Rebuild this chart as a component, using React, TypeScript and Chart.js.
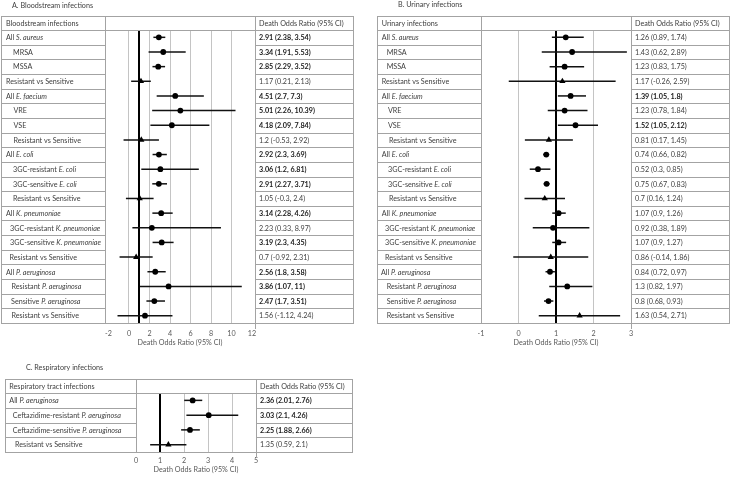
import React, { useEffect, useRef } from "react";
import { Chart, registerables } from "chart.js";

Chart.register(...registerables);

// ---------------- DATA ----------------
const valueHeader = "Death Odds Ratio (95% CI)";
const axisTitle = "Death Odds Ratio (95% CI)";

// Panel A: Bloodstream infections
const titleA = "A. Bloodstream infections";
const headerA = "Bloodstream infections";
const labelsA = [
  "All _S. aureus_", "MRSA", "MSSA", "Resistant vs Sensitive",
  "All _E. faecium_", "VRE", "VSE", "Resistant vs Sensitive",
  "All _E. coli_", "3GC-resistant _E. coli_", "3GC-sensitive _E. coli_", "Resistant vs Sensitive",
  "All _K. pneumoniae_", "3GC-resistant _K. pneumoniae_", "3GC-sensitive _K. pneumoniae_", "Resistant vs Sensitive",
  "All _P. aeruginosa_", "Resistant _P. aeruginosa_", "Sensitive _P. aeruginosa_", "Resistant vs Sensitive",
];
const orA = [2.91, 3.34, 2.85, 1.17, 4.51, 5.01, 4.18, 1.2, 2.92, 3.06, 2.91, 1.05, 3.14, 2.23, 3.19, 0.7, 2.56, 3.86, 2.47, 1.56];
const loA = [2.38, 1.91, 2.29, 0.21, 2.7, 2.26, 2.09, -0.53, 2.3, 1.2, 2.27, -0.3, 2.28, 0.33, 2.3, -0.92, 1.8, 1.07, 1.7, -1.12];
const hiA = [3.54, 5.53, 3.52, 2.13, 7.3, 10.39, 7.84, 2.92, 3.69, 6.81, 3.71, 2.4, 4.26, 8.97, 4.35, 2.31, 3.58, 11, 3.51, 4.24];
const markerA = ["circle", "circle", "circle", "triangle", "circle", "circle", "circle", "triangle", "circle", "circle", "circle", "triangle", "circle", "circle", "circle", "triangle", "circle", "circle", "circle", "circle"];
const boldA = [true, true, true, false, true, true, true, false, true, true, true, false, true, false, true, false, true, true, true, false];
const ticksA = [-2, 0, 2, 4, 6, 8, 10, 12];

// Panel B: Urinary infections
const titleB = "B. Urinary infections";
const headerB = "Urinary infections";
const labelsB = [
  "All _S. aureus_", "MRSA", "MSSA", "Resistant vs Sensitive",
  "All _E. faecium_", "VRE", "VSE", "Resistant vs Sensitive",
  "All _E. coli_", "3GC-resistant _E. coli_", "3GC-sensitive _E. coli_", "Resistant vs Sensitive",
  "All _K. pneumoniae_", "3GC-resistant _K. pneumoniae_", "3GC-sensitive _K. pneumoniae_", "Resistant vs Sensitive",
  "All _P. aeruginosa_", "Resistant _P. aeruginosa_", "Sensitive _P. aeruginosa_", "Resistant vs Sensitive",
];
const orB = [1.26, 1.43, 1.23, 1.17, 1.39, 1.23, 1.52, 0.81, 0.74, 0.52, 0.75, 0.7, 1.07, 0.92, 1.07, 0.86, 0.84, 1.3, 0.8, 1.63];
const loB = [0.89, 0.62, 0.83, -0.26, 1.05, 0.78, 1.05, 0.17, 0.66, 0.3, 0.67, 0.16, 0.9, 0.38, 0.9, -0.14, 0.72, 0.82, 0.68, 0.54];
const hiB = [1.74, 2.89, 1.75, 2.59, 1.8, 1.84, 2.12, 1.45, 0.82, 0.85, 0.83, 1.24, 1.26, 1.89, 1.27, 1.86, 0.97, 1.97, 0.93, 2.71];
const markerB = ["circle", "circle", "circle", "triangle", "circle", "circle", "circle", "triangle", "circle", "circle", "circle", "triangle", "circle", "circle", "circle", "triangle", "circle", "circle", "circle", "triangle"];
const boldB = [false, false, false, false, true, false, true, false, false, false, false, false, false, false, false, false, false, false, false, false];
const ticksB = [-1, 0, 1, 2, 3];

// Panel C: Respiratory infections
const titleC = "C. Respiratory infections";
const headerC = "Respiratory tract infections";
const labelsC = ["All _P. aeruginosa_", "Ceftazidime-resistant _P. aeruginosa_", "Ceftazidime-sensitive _P. aeruginosa_", "Resistant vs Sensitive"];
const orC = [2.36, 3.03, 2.25, 1.35];
const loC = [2.01, 2.1, 1.88, 0.59];
const hiC = [2.76, 4.26, 2.66, 2.1];
const markerC = ["circle", "circle", "circle", "triangle"];
const boldC = [true, true, true, false];
const ticksC = [0, 1, 2, 3, 4, 5];

const refValue = 1;

// ---------------- LAYOUT / STYLE ----------------
const FONT = 'Lato, "Liberation Sans", sans-serif';
const FS = 7.2;
const TEXT = "#404040";
const BOLDTEXT = "#1a1a1a";
const LINE = "#a3a3a3";
const GRID = "#c4c4c4";

type Layout = {
  left: number; top: number; w: number; h: number;
  tableLeft: number; headerTop: number; plotLeft: number; plotRight: number; tableRight: number;
  plotTop: number; plotBottom: number; xmin: number; xmax: number;
  titleX: number; titleY: number; valueX: number; headerIndent: number; indents: number[];
  tickPad: number; titlePadBottom: number;
};

const layoutA: Layout = {
  left: 0, top: 0, w: 360, h: 352,
  tableLeft: 1, headerTop: 16, plotLeft: 105, plotRight: 255, tableRight: 353,
  plotTop: 30, plotBottom: 323, xmin: -2.34, xmax: 12.29,
  titleX: 12, titleY: 6, valueX: 259, headerIndent: 5,
  indents: [5, 12, 12, 5, 5, 12.5, 12.5, 12.5, 5, 12, 12, 12, 5, 9, 9, 8.5, 5, 10.5, 10, 10.5],
  tickPad: 6.5, titlePadBottom: 4.7,
};
const layoutB: Layout = {
  left: 368, top: 0, w: 363, h: 352,
  tableLeft: 9, headerTop: 16, plotLeft: 113, plotRight: 263, tableRight: 361,
  plotTop: 30, plotBottom: 323, xmin: -1, xmax: 3,
  titleX: 30, titleY: 5, valueX: 267, headerIndent: 4.7,
  indents: [4.7, 9.7, 9.7, 4.7, 4.7, 11, 11, 12, 4.7, 11, 11, 12, 4.7, 8, 8, 8, 4, 9.7, 9.7, 9.7],
  tickPad: 6.5, titlePadBottom: 4.7,
};
const layoutC: Layout = {
  left: 0, top: 360, w: 360, h: 118,
  tableLeft: 5, headerTop: 19, plotLeft: 136, plotRight: 256, tableRight: 352,
  plotTop: 33, plotBottom: 92, xmin: 0, xmax: 5,
  titleX: 26, titleY: 8, valueX: 260, headerIndent: 4.3,
  indents: [4.3, 7.7, 7.7, 10],
  tickPad: 4.7, titlePadBottom: 3.7,
};

type Panel = {
  title: string; header: string; labels: string[]; or: number[]; lo: number[]; hi: number[];
  marker: string[]; bold: boolean[]; ticks: number[]; L: Layout;
};

const panels: Panel[] = [
  { title: titleA, header: headerA, labels: labelsA, or: orA, lo: loA, hi: hiA, marker: markerA, bold: boldA, ticks: ticksA, L: layoutA },
  { title: titleB, header: headerB, labels: labelsB, or: orB, lo: loB, hi: hiB, marker: markerB, bold: boldB, ticks: ticksB, L: layoutB },
  { title: titleC, header: headerC, labels: labelsC, or: orC, lo: loC, hi: hiC, marker: markerC, bold: boldC, ticks: ticksC, L: layoutC },
];

function font(bold: boolean, italic: boolean) {
  return `${italic ? "italic " : ""}${bold ? "bold " : ""}${FS}px ${FONT}`;
}

function drawRich(ctx: CanvasRenderingContext2D, text: string, x: number, y: number) {
  const parts = text.split("_");
  let cx = x;
  parts.forEach((part, i) => {
    if (!part) return;
    ctx.font = font(false, i % 2 === 1);
    ctx.fillText(part, cx, y);
    cx += ctx.measureText(part).width;
  });
}

function makeTablePlugin(p: Panel) {
  const L = p.L;
  return {
    id: "forestTable",
    beforeDatasetsDraw(chart: any) {
      const ca = chart.chartArea;
      const x = Math.round(chart.scales.x.getPixelForValue(refValue));
      const ctx = chart.ctx as CanvasRenderingContext2D;
      ctx.save();
      ctx.strokeStyle = "#000";
      ctx.lineWidth = 2;
      ctx.beginPath();
      ctx.moveTo(x, ca.top + 1);
      ctx.lineTo(x, ca.bottom);
      ctx.stroke();
      ctx.restore();
    },
    afterDraw(chart: any) {
      const ca = chart.chartArea;
      const ctx = chart.ctx as CanvasRenderingContext2D;
      const n = p.labels.length;
      const rowH = (ca.bottom - ca.top) / n;
      const hl = (x1: number, x2: number, y: number) => {
        const yy = Math.round(y) + 0.5;
        ctx.beginPath(); ctx.moveTo(x1, yy); ctx.lineTo(x2, yy); ctx.stroke();
      };
      const vl = (x: number, y1: number, y2: number) => {
        const xx = Math.round(x) + 0.5;
        ctx.beginPath(); ctx.moveTo(xx, y1); ctx.lineTo(xx, y2); ctx.stroke();
      };
      ctx.save();
      ctx.strokeStyle = LINE;
      ctx.lineWidth = 1;
      // horizontal borders
      hl(L.tableLeft, L.tableRight + 1, L.headerTop);
      hl(L.tableLeft, L.tableRight + 1, ca.top);
      hl(L.tableLeft, L.tableRight + 1, ca.bottom);
      for (let i = 1; i < n; i++) {
        const y = ca.top + i * rowH;
        hl(L.tableLeft, ca.left, y);
        hl(ca.right, L.tableRight, y);
      }
      // vertical borders
      vl(L.tableLeft, L.headerTop, ca.bottom + 1);
      vl(ca.left, L.headerTop, ca.bottom + 1);
      vl(ca.right, L.headerTop, ca.bottom + 6);
      vl(L.tableRight, L.headerTop, ca.bottom + 1);

      // texts
      ctx.textBaseline = "middle";
      ctx.textAlign = "left";
      ctx.fillStyle = TEXT;
      ctx.font = font(false, false);
      ctx.fillText(p.title, L.titleX, L.titleY);
      const hy = (L.headerTop + ca.top) / 2 + 0.5;
      ctx.fillText(p.header, L.tableLeft + L.headerIndent, hy);
      ctx.fillText(valueHeader, L.valueX, hy);
      for (let i = 0; i < n; i++) {
        const y = ca.top + (i + 0.5) * rowH + 0.5;
        ctx.fillStyle = TEXT;
        drawRich(ctx, p.labels[i], L.tableLeft + L.indents[i], y);
        ctx.font = font(p.bold[i], false);
        ctx.fillStyle = p.bold[i] ? BOLDTEXT : TEXT;
        ctx.fillText(`${p.or[i]} (${p.lo[i]}, ${p.hi[i]})`, L.valueX, y);
      }
      ctx.restore();
    },
  };
}

function ForestPanel({ p }: { p: Panel }) {
  const ref = useRef<HTMLCanvasElement>(null);
  useEffect(() => {
    const L = p.L;
    const n = p.labels.length;
    const first = p.ticks[0];
    const last = p.ticks[p.ticks.length - 1];
    const chart = new Chart(ref.current as HTMLCanvasElement, {
      type: "bar",
      data: {
        datasets: [
          {
            type: "scatter",
            data: p.or.map((v, i) => ({ x: v, y: i })),
            pointStyle: p.marker as any,
            pointRadius: p.marker.map((m) => (m === "triangle" ? 3.6 : 2.9)),
            backgroundColor: "#000",
            borderColor: "#000",
            borderWidth: 0,
            order: 0,
          } as any,
          {
            type: "bar",
            indexAxis: "y",
            data: p.lo.map((l, i) => ({ x: [l, p.hi[i]], y: i })),
            backgroundColor: "#111",
            borderWidth: 0,
            barThickness: 1.5,
            inflateAmount: 0,
            order: 1,
          } as any,
        ],
      },
      options: {
        responsive: false,
        animation: false,
        events: [],
        layout: {
          autoPadding: false,
          padding: { left: L.plotLeft, right: L.w - L.plotRight, top: L.plotTop, bottom: 0 },
        },
        plugins: { legend: { display: false }, tooltip: { enabled: false } },
        scales: {
          x: {
            type: "linear",
            position: "bottom",
            min: L.xmin,
            max: L.xmax,
            offset: false,
            afterBuildTicks: (s: any) => {
              s.ticks = p.ticks.map((v) => ({ value: v }));
            },
            afterFit: (s: any) => {
              s.height = L.h - L.plotBottom;
            },
            grid: {
              color: (ctx: any) =>
                ctx.tick && (ctx.tick.value === first || ctx.tick.value === last) ? "rgba(0,0,0,0)" : GRID,
              drawTicks: false,
              offset: false,
              lineWidth: 1,
            },
            border: { display: false },
            ticks: {
              padding: L.tickPad,
              color: "#595959",
              font: { family: FONT, size: FS },
              autoSkip: false,
              maxRotation: 0,
            },
            title: {
              display: true,
              text: axisTitle,
              color: "#595959",
              font: { family: FONT, size: FS },
              padding: { top: 0, bottom: L.titlePadBottom },
            },
          },
          y: {
            type: "linear",
            display: false,
            min: -0.5,
            max: n - 0.5,
            reverse: true,
            offset: false,
            grid: { offset: false },
          },
        },
      } as any,
      plugins: [makeTablePlugin(p)],
    });
    return () => chart.destroy();
  }, [p]);
  return (
    <canvas
      ref={ref}
      width={p.L.w}
      height={p.L.h}
      style={{ position: "absolute", left: p.L.left, top: p.L.top, width: p.L.w, height: p.L.h }}
    />
  );
}

export default function App() {
  return (
    <div style={{ position: "absolute", left: 0, top: 0, width: 731, height: 478, background: "#fff", overflow: "hidden" }}>
      {panels.map((p, i) => (
        <ForestPanel key={i} p={p} />
      ))}
    </div>
  );
}
